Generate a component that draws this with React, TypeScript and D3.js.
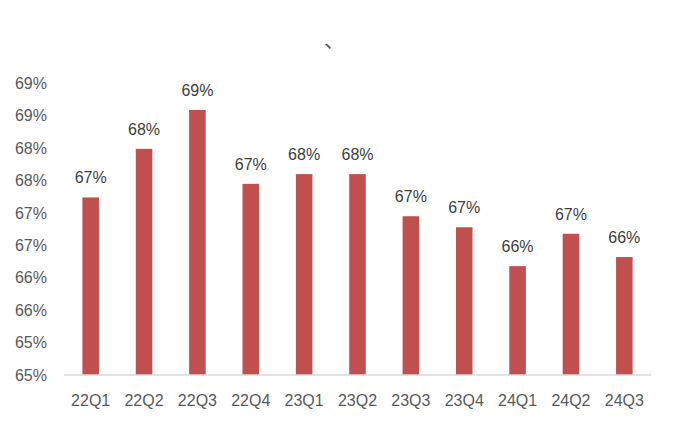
import React from "react";
import * as d3 from "d3";

const categories = ["22Q1", "22Q2", "22Q3", "22Q4", "23Q1", "23Q2", "23Q3", "23Q4", "24Q1", "24Q2", "24Q3"];
const values = [67.24, 67.99, 68.59, 67.45, 67.6, 67.6, 66.95, 66.78, 66.18, 66.68, 66.32];
const yTicks = [64.5, 65, 65.5, 66, 66.5, 67, 67.5, 68, 68.5, 69];
const yTickLabels = ["65%", "65%", "66%", "66%", "67%", "67%", "68%", "68%", "69%", "69%"];
const dataLabels = ["67%", "68%", "69%", "67%", "68%", "68%", "67%", "67%", "66%", "67%", "66%"];

const W = 674;
const H = 423;

export default function App() {
  const x = d3.scaleBand<string>().domain(categories).range([64, 651]).paddingInner(0.69).paddingOuter(0.345);
  const y = d3.scaleLinear().domain([64.5, 69]).range([375, 83.4]);
  const font = "'Liberation Sans', Arial, sans-serif";
  return (
    <div style={{ position: "fixed", left: 0, top: 0 }}>
      <svg width={W} height={H} style={{ display: "block", background: "#fff" }}>
        <text x={324} y={48} fontSize={20} fill="#555" fontFamily="'Noto Sans CJK SC', sans-serif">、</text>
        {yTicks.map((t, i) => (
          <text key={i} x={47} y={y(t)} dy="0.35em" textAnchor="end" fontSize={16} fill="#595959" fontFamily={font}>
            {yTickLabels[i]}
          </text>
        ))}
        {categories.map((c, i) => (
          <g key={c}>
            <rect x={x(c)} y={y(values[i])} width={x.bandwidth()} height={y(64.5) - y(values[i])} fill="#c0504d" />
            <text x={(x(c) as number) + x.bandwidth() / 2} y={y(values[i]) - 14} textAnchor="middle" fontSize={16} fill="#404040" fontFamily={font}>
              {dataLabels[i]}
            </text>
            <text x={(x(c) as number) + x.bandwidth() / 2} y={406} textAnchor="middle" fontSize={16} fill="#595959" fontFamily={font}>
              {c}
            </text>
          </g>
        ))}
        <line x1={64} x2={651} y1={375} y2={375} stroke="#d9d9d9" strokeWidth={1.5} />
      </svg>
    </div>
  );
}
